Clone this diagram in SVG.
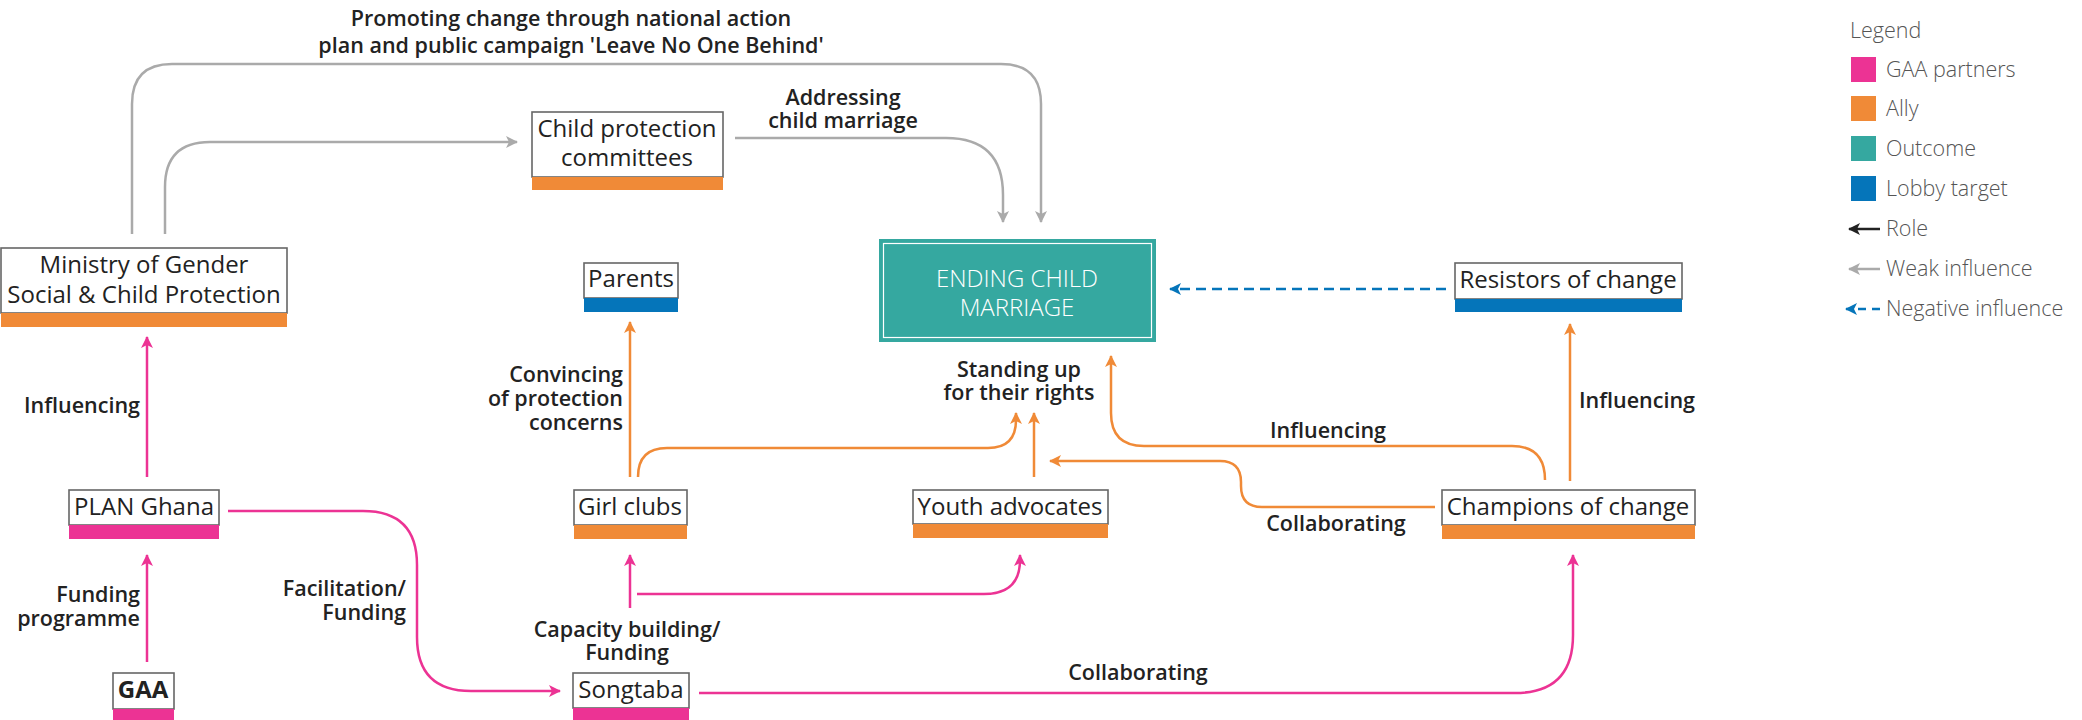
<svg xmlns="http://www.w3.org/2000/svg" width="2082" height="720" viewBox="0 0 2082 720">
<style>
.box{fill:#fff;stroke:#666;stroke-width:1.6}
.or{fill:#F08A37}.pk{fill:#EC3394}.bl{fill:#0575BA}
.nt{font-family:"Open Sans","Liberation Sans",sans-serif;font-size:24px;fill:#222;text-anchor:middle}
.lb{font-family:"Open Sans","Liberation Sans",sans-serif;font-size:21.5px;font-weight:600;fill:#222}
.lg{font-family:"Open Sans","Liberation Sans",sans-serif;font-size:21.5px;font-weight:300;fill:#555}
.c{fill:none;stroke-width:2.5}
.g{stroke:#AAAAAA}.o{stroke:#F08A37}.p{stroke:#EC3394}.b{stroke:#0575BA}
</style>
<defs>
<marker id="ag" viewBox="0 0 12 12" refX="11" refY="6" markerWidth="12" markerHeight="12" markerUnits="userSpaceOnUse" orient="auto"><path d="M0,0 L12,6 L0,12 L3,6 z" fill="#AAAAAA"/></marker>
<marker id="ao" viewBox="0 0 12 12" refX="11" refY="6" markerWidth="12" markerHeight="12" markerUnits="userSpaceOnUse" orient="auto"><path d="M0,0 L12,6 L0,12 L3,6 z" fill="#F08A37"/></marker>
<marker id="ap" viewBox="0 0 12 12" refX="11" refY="6" markerWidth="12" markerHeight="12" markerUnits="userSpaceOnUse" orient="auto"><path d="M0,0 L12,6 L0,12 L3,6 z" fill="#EC3394"/></marker>
<marker id="ab" viewBox="0 0 12 12" refX="11" refY="6" markerWidth="12" markerHeight="12" markerUnits="userSpaceOnUse" orient="auto"><path d="M0,0 L12,6 L0,12 L3,6 z" fill="#0575BA"/></marker>
<marker id="ak" viewBox="0 0 12 12" refX="11" refY="6" markerWidth="12" markerHeight="12" markerUnits="userSpaceOnUse" orient="auto"><path d="M0,0 L12,6 L0,12 L3,6 z" fill="#222"/></marker>
</defs>

<g id="connectors">
<path class="c g" d="M132,234 V104 Q132,64 172,64 H1001 Q1041,64 1041,104 V222" marker-end="url(#ag)"/>
<path class="c g" d="M165,234 V187 Q165,142 210,142 H517" marker-end="url(#ag)"/>
<path class="c g" d="M735,138 H946 Q1003,138 1003,195 V222" marker-end="url(#ag)"/>
<path class="c b" d="M1446,289 H1170" stroke-dasharray="10,6" marker-end="url(#ab)"/>
<path class="c o" d="M630,477 V322" marker-end="url(#ao)"/>
<path class="c o" d="M638,477 Q638,448 667,448 H988 Q1016,448 1016,420 V413" marker-end="url(#ao)"/>
<path class="c o" d="M1034,477 V413" marker-end="url(#ao)"/>
<path class="c o" d="M1545,480 Q1545,446 1512,446 H1144 Q1111,446 1111,413 V356" marker-end="url(#ao)"/>
<path class="c o" d="M1570,481 V324" marker-end="url(#ao)"/>
<path class="c o" d="M1435,507 H1262 Q1241,507 1241,486 V482 Q1241,461 1220,461 H1050" marker-end="url(#ao)"/>
<path class="c p" d="M147,662 V555" marker-end="url(#ap)"/>
<path class="c p" d="M147,477 V337" marker-end="url(#ap)"/>
<path class="c p" d="M228,511 H363 Q417,511 417,565 V637 Q417,691 471,691 H560" marker-end="url(#ap)"/>
<path class="c p" d="M630,608 V555" marker-end="url(#ap)"/>
<path class="c p" d="M637,594 H984 Q1020,594 1020,560 V555" marker-end="url(#ap)"/>
<path class="c p" d="M699,693 H1515 Q1573,693 1573,635 V555" marker-end="url(#ap)"/>
</g>

<g id="labels">
<text class="lb" x="571" y="26" text-anchor="middle">Promoting change through national action</text>
<text class="lb" x="571" y="53" text-anchor="middle">plan and public campaign 'Leave No One Behind'</text>
<text class="lb" x="843" y="105" text-anchor="middle">Addressing</text>
<text class="lb" x="843" y="128" text-anchor="middle">child marriage</text>
<text class="lb" x="140" y="413" text-anchor="end">Influencing</text>
<text class="lb" x="140" y="602" text-anchor="end">Funding</text>
<text class="lb" x="140" y="626" text-anchor="end">programme</text>
<text class="lb" x="406" y="596" text-anchor="end">Facilitation/</text>
<text class="lb" x="406" y="620" text-anchor="end">Funding</text>
<text class="lb" x="623" y="382" text-anchor="end">Convincing</text>
<text class="lb" x="623" y="406" text-anchor="end">of protection</text>
<text class="lb" x="623" y="430" text-anchor="end">concerns</text>
<text class="lb" x="627" y="637" text-anchor="middle">Capacity building/</text>
<text class="lb" x="627" y="660" text-anchor="middle">Funding</text>
<text class="lb" x="1019" y="377" text-anchor="middle">Standing up</text>
<text class="lb" x="1019" y="400" text-anchor="middle">for their rights</text>
<text class="lb" x="1328" y="438" text-anchor="middle">Influencing</text>
<text class="lb" x="1336" y="531" text-anchor="middle">Collaborating</text>
<text class="lb" x="1637" y="408" text-anchor="middle">Influencing</text>
<text class="lb" x="1138" y="680" text-anchor="middle">Collaborating</text>
</g>

<g id="node-cpc">
<rect class="box" x="532" y="112" width="191" height="65"/>
<rect class="or" x="532" y="177" width="191" height="13"/>
<text class="nt" x="627" y="137">Child protection</text>
<text class="nt" x="627" y="166">committees</text>
</g>
<g id="node-ministry">
<rect class="box" x="1" y="248" width="286" height="65"/>
<rect class="or" x="1" y="313" width="286" height="14"/>
<text class="nt" x="144" y="273">Ministry of Gender</text>
<text class="nt" x="144" y="303">Social &amp; Child Protection</text>
</g>
<g id="node-parents">
<rect class="box" x="584" y="263" width="94" height="35"/>
<rect class="bl" x="584" y="298" width="94" height="14"/>
<text class="nt" x="631" y="287">Parents</text>
</g>
<g id="node-ending">
<rect x="879" y="239" width="277" height="103" fill="#35A8A0"/>
<rect x="883.5" y="243.5" width="268" height="94" fill="none" stroke="#fff" stroke-width="1.2"/>
<text class="nt" x="1017" y="287" style="fill:#fff;font-weight:300">ENDING CHILD</text>
<text class="nt" x="1017" y="316" style="fill:#fff;font-weight:300">MARRIAGE</text>
</g>
<g id="node-resistors">
<rect class="box" x="1455" y="263" width="227" height="36"/>
<rect class="bl" x="1455" y="299" width="227" height="13"/>
<text class="nt" x="1568" y="288">Resistors of change</text>
</g>
<g id="node-plan">
<rect class="box" x="69" y="490" width="150" height="35"/>
<rect class="pk" x="69" y="525" width="150" height="14"/>
<text class="nt" x="144" y="515">PLAN Ghana</text>
</g>
<g id="node-girlclubs">
<rect class="box" x="574" y="490" width="113" height="35"/>
<rect class="or" x="574" y="525" width="113" height="14"/>
<text class="nt" x="630" y="515">Girl clubs</text>
</g>
<g id="node-youth">
<rect class="box" x="913" y="490" width="195" height="34"/>
<rect class="or" x="913" y="524" width="195" height="14"/>
<text class="nt" x="1010" y="515">Youth advocates</text>
</g>
<g id="node-champions">
<rect class="box" x="1442" y="490" width="253" height="35"/>
<rect class="or" x="1442" y="525" width="253" height="14"/>
<text class="nt" x="1568" y="515">Champions of change</text>
</g>
<g id="node-gaa">
<rect class="box" x="113" y="673" width="61" height="36"/>
<rect class="pk" x="113" y="709" width="61" height="12"/>
<text class="nt" x="143" y="698" style="font-weight:700">GAA</text>
</g>
<g id="node-songtaba">
<rect class="box" x="573" y="673" width="116" height="35"/>
<rect class="pk" x="573" y="708" width="116" height="13"/>
<text class="nt" x="631" y="698">Songtaba</text>
</g>

<g id="legend">
<text class="lg" x="1850" y="38">Legend</text>
<rect class="pk" x="1851" y="57" width="25" height="25"/>
<text class="lg" x="1886" y="77">GAA partners</text>
<rect class="or" x="1851" y="96" width="25" height="25"/>
<text class="lg" x="1886" y="116">Ally</text>
<rect x="1851" y="136" width="25" height="25" fill="#35A8A0"/>
<text class="lg" x="1886" y="156">Outcome</text>
<rect class="bl" x="1851" y="176" width="25" height="25"/>
<text class="lg" x="1886" y="196">Lobby target</text>
<path class="c" stroke="#222" d="M1880,229 H1849" marker-end="url(#ak)"/>
<text class="lg" x="1886" y="236">Role</text>
<path class="c g" d="M1880,269 H1849" marker-end="url(#ag)"/>
<text class="lg" x="1886" y="276">Weak influence</text>
<path class="c b" d="M1880,309 H1846" stroke-dasharray="8,6" marker-end="url(#ab)"/>
<text class="lg" x="1886" y="316">Negative influence</text>
</g>
</svg>
